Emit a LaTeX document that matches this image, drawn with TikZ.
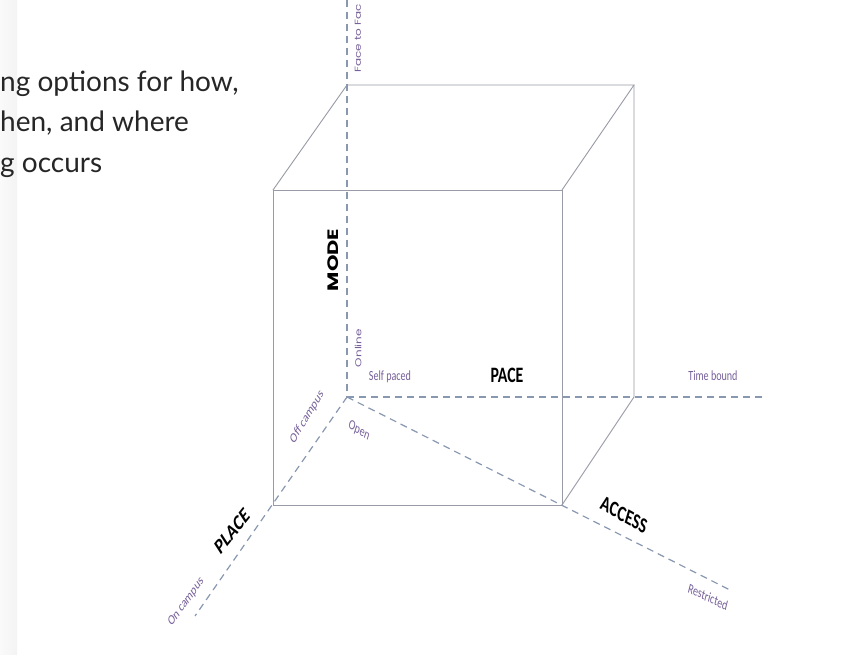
\documentclass[tikz,border=0pt]{standalone}
\usepackage{fontspec}
\newfontfamily\carlito{Carlito}
\newfontfamily\pop{Poppins}
\newfontfamily\latof{Lato}
\definecolor{axiscol}{HTML}{8898B0}
\definecolor{cubecol}{HTML}{989BA5}
\definecolor{lblcol}{HTML}{76609A}
\definecolor{txtcol}{HTML}{262626}
\tikzset{
  axisline/.style={draw=axiscol, line width=1.2pt, dash pattern=on 7pt off 5pt},
  cubeline/.style={draw=cubecol, line width=0.9pt},
  sq/.style={xscale=0.72, inner sep=0pt},
  small/.style={sq, text=lblcol, font=\carlito\fontsize{14}{16}\selectfont},
  big/.style={sq, text=black, font=\carlito\bfseries\fontsize{22}{24}\selectfont},
  vsmall/.style={sq, text=lblcol, font=\pop\fontsize{12}{14}\selectfont},
  vbig/.style={sq, text=black, font=\pop\bfseries\fontsize{21}{24}\selectfont},
  heading/.style={anchor=base west, inner sep=0pt, text=txtcol, font=\latof\fontsize{28}{32}\selectfont}
}
\begin{document}
\begin{tikzpicture}[x=1pt, y=-1pt]
\useasboundingbox (0,0) rectangle (846,654);
\fill[white] (0,0) rectangle (846,654);
\fill[left color=gray!4, right color=gray!9] (0,0) rectangle (17,654);
% heading text
\node[heading] (h1) at (0,91) {ng options for how,};
\node[heading] (h2) at (0,131) {hen, and where};
\node[heading] (h3) at (0,172) {g occurs};
% coordinates
\coordinate (O) at (347,397);
\coordinate (modeTop) at (347,0);
\coordinate (paceEnd) at (762,397);
\coordinate (accEnd) at (732,591);
\coordinate (placeEnd) at (195,616);
\coordinate (ftl) at (273,190);
\coordinate (ftr) at (562,190);
\coordinate (fbl) at (273,505);
\coordinate (fbr) at (562,505);
\coordinate (btl) at (347,85);
\coordinate (btr) at (634,85);
\coordinate (bbr) at (634,397);
% cube
\draw[cubeline] (ftl) -- (ftr) -- (fbr) -- (fbl) -- cycle;
\draw[cubeline] (ftl) -- (btl) -- (btr) -- (ftr);
\draw[cubeline] (btr) -- (bbr) -- (fbr);
% axes
\draw[axisline] (modeTop) -- (O);
\draw[axisline] (O) -- (paceEnd);
\draw[axisline] (O) -- (accEnd);
\draw[axisline] (O) -- (placeEnd);
% labels
\node[vsmall, rotate=90, anchor=west] (face) at (358,73) {Face to Fac};
\node[vbig, rotate=90] (mode) at (333,260) {MODE};
\node[vsmall, rotate=90] (online) at (358,348) {Online};
\node[small] (self) at (390,377) {Self paced};
\node[big] (pace) at (507,375) {PACE};
\node[small] (time) at (713,376) {Time bound};
\node[small, rotate=-24] (open) at (359,431) {Open};
\node[small, rotate=50] (off) at (307,417) {Off campus};
\node[big, rotate=42] (place) at (232,531) {PLACE};
\node[small, rotate=45] (on) at (186,602) {On campus};
\node[big, rotate=-22] (access) at (624,515) {ACCESS};
\node[small, rotate=-19] (restr) at (708,597) {Restricted};
\end{tikzpicture}
\end{document}
